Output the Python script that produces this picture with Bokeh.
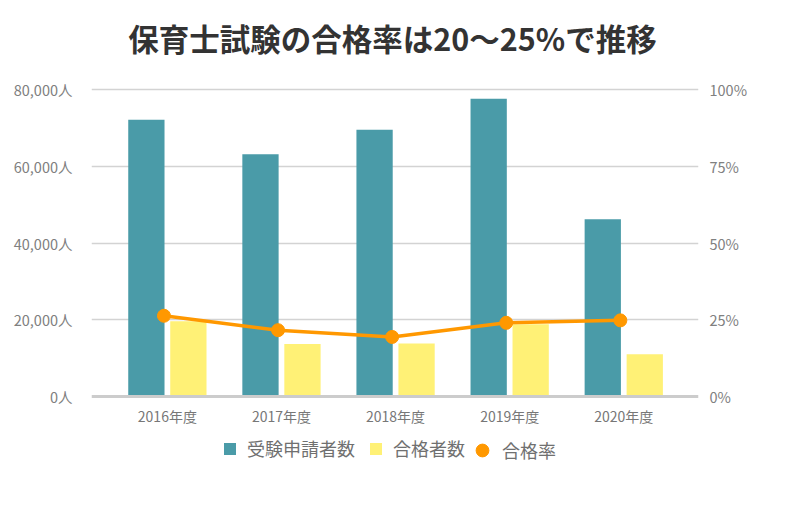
from bokeh.plotting import figure
from bokeh.models import Range1d, LinearAxis, FixedTicker, Legend, LegendItem, Label
from bokeh.embed import file_html
from bokeh.resources import INLINE

# ---- data ----
years = ["2016年度", "2017年度", "2018年度", "2019年度", "2020年度"]
applicants = [72100, 63100, 69500, 77600, 46200]   # 受験申請者数
passers = [19600, 13700, 13800, 18800, 11000]      # 合格者数
pass_rate = [26.3, 21.6, 19.4, 24.0, 24.8]          # 合格率 (%)
left_ticks = [0, 20000, 40000, 60000, 80000]
right_ticks = [0, 25, 50, 75, 100]
title_text = "保育士試験の合格率は20〜25%で推移"

TEAL = "#4A9BA8"
YELLOW = "#FFF176"
ORANGE = "#FF9800"
FONT = "Noto Sans CJK JP"

# ---- layout (pixels) ----
W, H = 808, 521
FRAME_TOP, FRAME_BOTTOM = 20, 480      # frame spans these screen rows
Y_TOP, Y_ZERO = 89, 396                # rows of the 80,000 line and the 0 line
span = Y_ZERO - Y_TOP
y_start = -left_ticks[-1] * (FRAME_BOTTOM - Y_ZERO) / span
y_end = left_ticks[-1] * (1 + (Y_TOP - FRAME_TOP) / span)
r_start = -right_ticks[-1] * (FRAME_BOTTOM - Y_ZERO) / span
r_end = right_ticks[-1] * (1 + (Y_TOP - FRAME_TOP) / span)

idx = list(range(len(years)))
x_app = [i - 0.184 for i in idx]
x_pass = [i + 0.184 for i in idx]
x_rate = [i - 0.03 for i in idx]

p = figure(width=W, height=H, output_backend="svg", toolbar_location=None,
           x_range=Range1d(-0.665, 4.655), y_range=Range1d(y_start, y_end),
           min_border_left=91, min_border_right=110, min_border_top=FRAME_TOP,
           min_border_bottom=H - FRAME_BOTTOM, y_axis_location=None)
p.outline_line_color = None
p.background_fill_color = "white"
p.border_fill_color = "white"

p.extra_y_ranges = {"rate": Range1d(r_start, r_end)}

r_app = p.vbar(x=x_app, top=applicants, width=0.318, color=TEAL, line_color=None)
r_pass = p.vbar(x=x_pass, top=passers, width=0.318, color=YELLOW, line_color=None)
p.line(x=x_rate, y=pass_rate, y_range_name="rate", line_color=ORANGE, line_width=3.5)
r_rate = p.scatter(x=x_rate, y=pass_rate, y_range_name="rate", size=13, color=ORANGE)

# x axis drawn at the zero line
xa = p.xaxis[0]
xa.fixed_location = 0
xa.ticker = FixedTicker(ticks=idx)
xa.major_label_overrides = {i: y for i, y in zip(idx, years)}
xa.axis_line_color = "#cccccc"
xa.axis_line_width = 3
xa.major_tick_line_color = None
xa.minor_tick_line_color = None
xa.major_label_text_font = FONT
xa.major_label_text_font_size = "14px"
xa.major_label_text_color = "#777777"
xa.major_label_standoff = 3

la = LinearAxis(ticker=FixedTicker(ticks=left_ticks),
                major_label_overrides={v: f"{v:,}人" for v in left_ticks})
ra = LinearAxis(y_range_name="rate", ticker=FixedTicker(ticks=right_ticks),
                major_label_overrides={v: f"{v}%" for v in right_ticks})
for ax, so in ((la, 13), (ra, 5)):
    ax.axis_line_color = None
    ax.major_tick_line_color = None
    ax.minor_tick_line_color = None
    ax.major_label_text_font = FONT
    ax.major_label_text_font_size = "14.5px"
    ax.major_label_text_color = "#808080"
    ax.major_label_standoff = so
p.add_layout(la, "left")
p.add_layout(ra, "right")

p.xgrid.grid_line_color = None
p.ygrid.ticker = FixedTicker(ticks=left_ticks[1:])
p.ygrid.grid_line_color = "#d3d3d3"
p.ygrid.grid_line_width = 1.5

# title
p.add_layout(Label(x=301, y=FRAME_BOTTOM - 37, x_units="screen", y_units="screen",
                   text=title_text, text_align="center", text_baseline="middle",
                   text_font=FONT, text_font_size="30.5px", text_font_style="bold",
                   text_color="#333333"))


def style_legend(lg):
    lg.label_text_font = FONT
    lg.label_text_font_size = "18px"
    lg.label_text_color = "#707070"
    lg.border_line_color = None
    lg.background_fill_alpha = 0
    lg.padding = 0
    lg.margin = 0
    lg.orientation = "horizontal"


legend1 = Legend(items=[
    LegendItem(label="受験申請者数", renderers=[r_app]),
    LegendItem(label="合格者数", renderers=[r_pass]),
], location=(131, 19))
style_legend(legend1)
legend1.glyph_width = 15
legend1.glyph_height = 15
legend1.label_standoff = 10
legend1.spacing = 13

legend2 = Legend(items=[LegendItem(label="合格率", renderers=[r_rate])], location=(375, 14))
style_legend(legend2)
legend2.glyph_width = 32
legend2.glyph_height = 32
legend2.label_standoff = 4

p.add_layout(legend1)
p.add_layout(legend2)

open("out.html", "w").write(file_html(p, INLINE))
